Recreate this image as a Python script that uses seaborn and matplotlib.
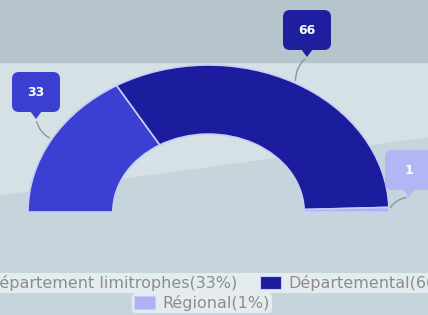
import numpy as np
import matplotlib
matplotlib.use("Agg")
import matplotlib.pyplot as plt
from matplotlib.patches import FancyBboxPatch, Polygon, Patch, Rectangle
import seaborn as sns

# ---- data ----
categories = ["Département limitrophes", "Départemental", "Régional"]
values = [33, 66, 1]
percents = [33, 66, 1]
colors = ["#3b3fd2", "#1c1c9e", "#aeb1f5"]
box_colors = ["#3a3fcf", "#1e1f9e", "#b3b6f5"]

sns.set_theme(style="white")
plt.rcParams["font.family"] = ["DejaVu Sans"]

W, H = 428, 315
fig = plt.figure(figsize=(W / 100, H / 100), dpi=100)

# background axes (pixel coords)
bg = fig.add_axes([0, 0, 1, 1], zorder=0)
bg.set_xlim(0, W)
bg.set_ylim(H, 0)
bg.axis("off")
bg.add_patch(Rectangle((0, 0), W, H, color="#d6e1e6", zorder=0))
bg.add_patch(Rectangle((0, 0), W, 62, color="#b6c5cb", zorder=1))
bg.add_patch(Polygon([(0, 196), (W, 138), (W, H), (0, H)], closed=True,
                     color="#c6d5dc", zorder=1))

# donut axes
ax = fig.add_axes([0, 0, 1, 1], zorder=1)
ax.patch.set_alpha(0)
total = sum(values)
wedges, _ = ax.pie(values + [total], startangle=180, counterclock=False,
                   colors=colors + ["none"], radius=1.0,
                   wedgeprops=dict(width=0.47, edgecolor="#c9cdf3", linewidth=1.2))
wedges[-1].set_visible(False)
ax.set_aspect("auto")
cx_px, cy_px, rx_px, ry_px = 208.5, 212.0, 180.5, 147.0
ax.set_xlim(-cx_px / rx_px, (W - cx_px) / rx_px)
ax.set_ylim((cy_px - H) / ry_px, cy_px / ry_px)
ax.axis("off")

# overlay axes for callouts
ov = fig.add_axes([0, 0, 1, 1], zorder=2)
ov.patch.set_alpha(0)
ov.set_xlim(0, W)
ov.set_ylim(H, 0)
ov.axis("off")

box_centers = [(36, 92), (307, 30), (409, 170)]
bw, bh = 48, 40
cum = 0
for i, v in enumerate(values):
    mid = 180 - (cum + v / 2) / total * 180
    cum += v
    px, py = np.cos(np.radians(mid)), np.sin(np.radians(mid))
    disp = ax.transData.transform((px, py))
    end = ov.transData.inverted().transform(disp)
    bx, by = box_centers[i]
    tip = (bx, by + bh / 2 + 7)
    ov.annotate("", xy=end, xytext=tip,
                arrowprops=dict(arrowstyle="-", color="#8797a0", lw=1.0,
                                connectionstyle="arc3,rad=0.25"), zorder=3)
    ov.add_patch(FancyBboxPatch((bx - bw / 2, by - bh / 2), bw, bh,
                                boxstyle="round,pad=0,rounding_size=7",
                                fc=box_colors[i], ec="none", zorder=4))
    ov.add_patch(Polygon([(bx - 6, by + bh / 2 - 1), (bx + 6, by + bh / 2 - 1), tip],
                         closed=True, fc=box_colors[i], ec="none", zorder=4))
    ov.text(bx, by, str(v), color="white", fontsize=9, fontweight="bold",
            ha="center", va="center", zorder=5)

# legends
handles = [Patch(facecolor=c, edgecolor="#c9cdf3", linewidth=0.8) for c in colors]
labels = [f"{c}({p}%)" for c, p in zip(categories, percents)]
leg_kw = dict(loc="center", frameon=True, fontsize=11.5, labelcolor="#8c8c8c",
              handlelength=1.3, handleheight=0.9, handletextpad=0.5,
              columnspacing=1.4, borderpad=0.1, facecolor="white",
              edgecolor="none", framealpha=0.55)
leg1 = fig.legend(handles[:2], labels[:2], ncol=2,
                  bbox_to_anchor=(0.487, 1 - 283 / H), **leg_kw)
leg2 = fig.legend(handles[2:], labels[2:], ncol=1,
                  bbox_to_anchor=(0.472, 1 - 303 / H), **leg_kw)

fig.savefig("out.png", dpi=100)
